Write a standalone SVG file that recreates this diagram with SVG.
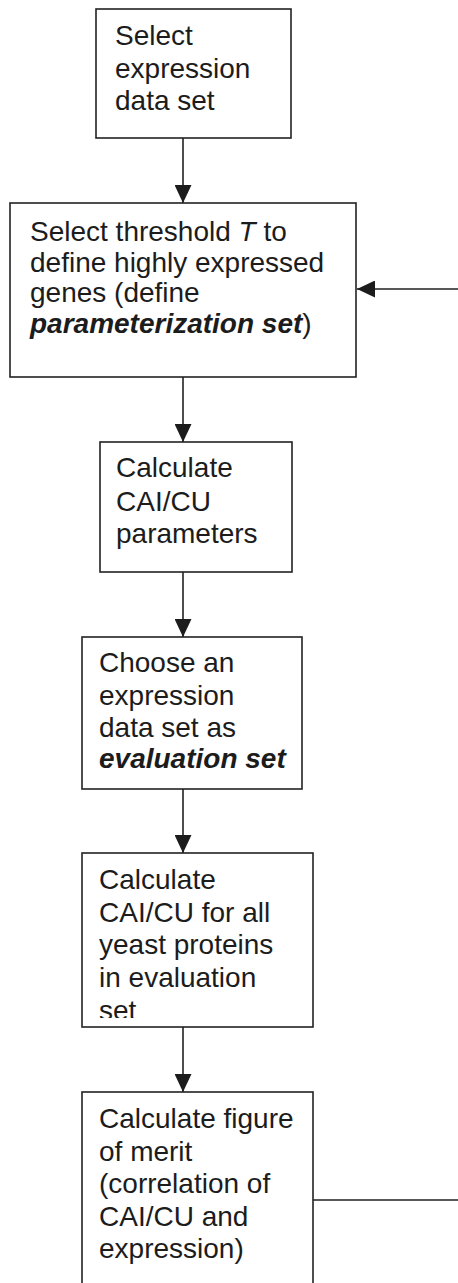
<svg xmlns="http://www.w3.org/2000/svg" width="458" height="1283" viewBox="0 0 458 1283">
<style>
.box{fill:#fff;stroke:#222;stroke-width:1.6}
.t{font-family:"Liberation Sans",Arial,sans-serif;font-size:28px;fill:#1c1c1c}
.i{font-style:italic}
.bi{font-style:italic;font-weight:bold}
.c{fill:none;stroke:#222;stroke-width:1.6}
</style>
<defs>
<marker id="ah" markerUnits="userSpaceOnUse" viewBox="0 0 18 17" refX="18" refY="8.5" markerWidth="18" markerHeight="17" orient="auto">
<path d="M0,0 L18,8.5 L0,17 z" fill="#1c1c1c"/>
</marker>
<clipPath id="clip5"><rect x="82" y="853" width="231" height="165"/></clipPath>
</defs>
<rect width="458" height="1283" fill="#fff"/>
<g id="connectors">
<line class="c" x1="183" y1="138" x2="183" y2="203" marker-end="url(#ah)"/>
<line class="c" x1="183" y1="377" x2="183" y2="442" marker-end="url(#ah)"/>
<line class="c" x1="183" y1="572" x2="183" y2="637" marker-end="url(#ah)"/>
<line class="c" x1="183" y1="789" x2="183" y2="853" marker-end="url(#ah)"/>
<line class="c" x1="183" y1="1027" x2="183" y2="1092" marker-end="url(#ah)"/>
<path class="c" d="M313,1200 H470 V289 H357" marker-end="url(#ah)"/>
</g>
<g id="n1">
<rect class="box" x="96" y="9" width="195" height="129"/>
<text class="t" x="115" y="45">Select</text>
<text class="t" x="115" y="78">expression</text>
<text class="t" x="115" y="110">data set</text>
</g>
<g id="n2">
<rect class="box" x="10" y="203" width="346" height="174"/>
<text class="t" x="30" y="241">Select threshold <tspan class="i">T</tspan> to</text>
<text class="t" x="30" y="272">define highly expressed</text>
<text class="t" x="30" y="302">genes (define</text>
<text class="t" x="30" y="333"><tspan class="bi">parameterization set</tspan>)</text>
</g>
<g id="n3">
<rect class="box" x="100" y="442" width="192" height="130"/>
<text class="t" x="116" y="477">Calculate</text>
<text class="t" x="116" y="511">CAI/CU</text>
<text class="t" x="116" y="543">parameters</text>
</g>
<g id="n4">
<rect class="box" x="82" y="637" width="220" height="152"/>
<text class="t" x="99" y="672">Choose an</text>
<text class="t" x="99" y="705">expression</text>
<text class="t" x="99" y="737">data set as</text>
<text class="t bi" x="99" y="768">evaluation set</text>
</g>
<g id="n5">
<rect class="box" x="82" y="853" width="231" height="174"/>
<g clip-path="url(#clip5)">
<text class="t" x="99" y="889">Calculate</text>
<text class="t" x="99" y="922">CAI/CU for all</text>
<text class="t" x="99" y="954">yeast proteins</text>
<text class="t" x="99" y="987">in evaluation</text>
<text class="t" x="99" y="1020">set</text>
</g>
</g>
<g id="n6">
<rect class="box" x="82" y="1092" width="231" height="220"/>
<text class="t" x="99" y="1128">Calculate figure</text>
<text class="t" x="99" y="1161">of merit</text>
<text class="t" x="99" y="1193">(correlation of</text>
<text class="t" x="99" y="1226">CAI/CU and</text>
<text class="t" x="99" y="1258">expression)</text>
</g>
</svg>
